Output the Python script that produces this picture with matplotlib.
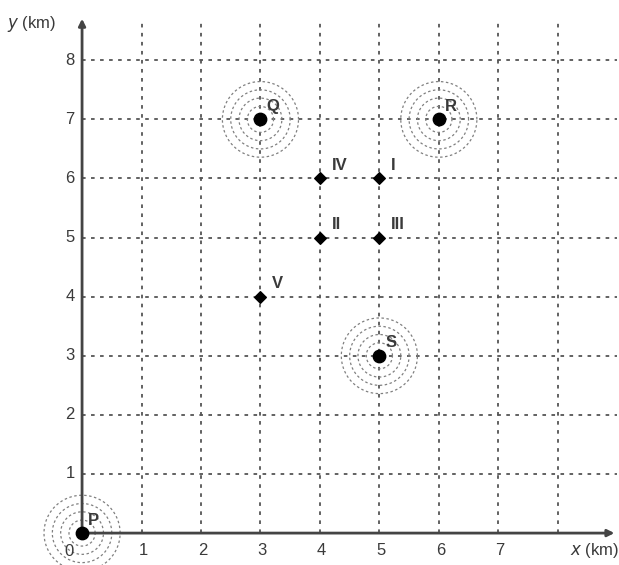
import matplotlib.pyplot as plt
import numpy as np

# grid values
x_ticks = [1, 2, 3, 4, 5, 6, 7]
y_ticks = [1, 2, 3, 4, 5, 6, 7, 8]
grid_x = [1, 2, 3, 4, 5, 6, 7, 8]
grid_y = [1, 2, 3, 4, 5, 6, 7, 8]

# towns with rings
town_names = ['P', 'Q', 'R', 'S']
town_x = [0, 3, 6, 5]
town_y = [0, 7, 7, 3]

# candidate points
site_names = ['I', 'II', 'III', 'IV', 'V']
site_x = [5, 4, 5, 4, 3]
site_y = [6, 5, 5, 6, 4]

txt = '#3a3a3a'
plt.rcParams['font.family'] = ['Liberation Sans', 'DejaVu Sans']

fig = plt.figure(figsize=(6.19, 5.65), dpi=100)
ax = fig.add_axes([0, 0, 1, 1])
ax.set_xlim(-1.38, 9.03)
ax.set_ylim(-0.54, 9.02)
ax.axis('off')

# dotted grid
for gx in grid_x:
    ax.plot([gx, gx], [0, 8.7], ls=(0, (2, 3)), color='#555555', lw=1.3, zorder=1)
for gy in grid_y:
    ax.plot([0, 9.0], [gy, gy], ls=(0, (2, 3)), color='#555555', lw=1.3, zorder=1)

# axes with arrows
ax.annotate('', xy=(9.0, 0), xytext=(0, 0),
            arrowprops=dict(arrowstyle='-|>', color='#444444', lw=2, mutation_scale=10), zorder=3)
ax.annotate('', xy=(0, 8.75), xytext=(0, 0),
            arrowprops=dict(arrowstyle='-|>', color='#444444', lw=2, mutation_scale=10), zorder=3)

# tick labels
for v in x_ticks:
    ax.text(v + 0.03, -0.3, str(v), ha='center', va='center', fontsize=12, color=txt)
ax.text(-0.22, -0.32, '0', ha='center', va='center', fontsize=12, color=txt)
for v in y_ticks:
    ax.text(-0.2, v, str(v), ha='center', va='center', fontsize=12, color=txt)
ax.text(8.62, -0.3, r'$x$ (km)', ha='center', va='center', fontsize=12, color=txt)
ax.text(-0.85, 8.62, r'$y$ (km)', ha='center', va='center', fontsize=12, color=txt)

# concentric rings
t = np.linspace(0, 2 * np.pi, 200)
for tx, ty in zip(town_x, town_y):
    for r in [0.22, 0.36, 0.5, 0.64]:
        ax.plot(tx + r * np.cos(t), ty + r * np.sin(t), ls=(0, (2, 2)),
                color='#808080', lw=0.9, zorder=2)
ax.scatter(town_x, town_y, s=80, color='black', zorder=5)
for name, tx, ty in zip(town_names, town_x, town_y):
    ax.text(tx + 0.1, ty + 0.22, name, fontsize=12, fontweight='bold', color=txt,
            ha='left', va='center', zorder=6)

# candidate points
ax.scatter(site_x, site_y, s=35, marker='D', color='black', zorder=5)
for name, sx, sy in zip(site_names, site_x, site_y):
    ax.text(sx + 0.2, sy + 0.22, name, fontsize=12, fontweight='bold', color=txt,
            ha='left', va='center', zorder=6)

plt.savefig('out.png', dpi=100)
